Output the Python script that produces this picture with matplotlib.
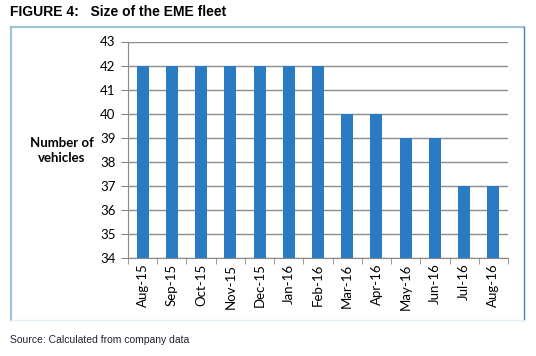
import matplotlib
matplotlib.use("Agg")
import matplotlib.pyplot as plt
from matplotlib.lines import Line2D

months = ["Aug-15", "Sep-15", "Oct-15", "Nov-15", "Dec-15", "Jan-16", "Feb-16",
          "Mar-16", "Apr-16", "May-16", "Jun-16", "Jul-16", "Aug-16"]
vehicles = [42, 42, 42, 42, 42, 42, 42, 40, 40, 39, 39, 37, 37]
y_ticks = [34, 35, 36, 37, 38, 39, 40, 41, 42, 43]

W, H = 536, 356
fig = plt.figure(figsize=(W / 100, H / 100), dpi=100)

# outer frame
def fx(x): return x / W
def fy(y): return 1 - y / H
fig.add_artist(Line2D([fx(11), fx(11)], [fy(27), fy(320)], color="#9fc2d6", lw=1.6, transform=fig.transFigure))
fig.add_artist(Line2D([fx(11), fx(524)], [fy(27), fy(27)], color="#9fc2d6", lw=1.6, transform=fig.transFigure))
fig.add_artist(Line2D([fx(524), fx(524)], [fy(27), fy(320)], color="#3f7fc4", lw=1.0, transform=fig.transFigure))
fig.add_artist(Line2D([fx(11), fx(524)], [fy(320), fy(320)], color="#e3f1f6", lw=1.0, transform=fig.transFigure))

ax = fig.add_axes([fx(128), fy(258), fx(508) - fx(128), fy(41.5) - fy(258)])
x = list(range(len(months)))
ax.bar(x, [v - 34 for v in vehicles], bottom=34, width=0.41, color="#2a7bc2", zorder=3)
ax.set_xlim(-0.5, len(months) - 0.5)
ax.set_ylim(34, 43)
ax.set_yticks(y_ticks)
ax.set_yticklabels([str(t) for t in y_ticks], fontsize=9.5, family="Lato")
ax.set_xticks(x)
ax.set_xticklabels(months, rotation=90, fontsize=9.5, family="Lato")
ax.tick_params(axis="x", length=0, pad=4)
ax.set_xticks([i - 0.5 for i in range(len(months) + 1)], minor=True)
ax.tick_params(axis="x", which="minor", length=4, color="#888888", direction="out")
ax.tick_params(axis="y", length=5, color="#888888", direction="out", pad=4)
ax.grid(axis="y", color="#8c8c8c", lw=1.0, zorder=0)
for s in ["top", "right"]:
    ax.spines[s].set_visible(False)
ax.spines["left"].set_color("#888888")
ax.spines["bottom"].set_color("#888888")

fig.text(fx(10), fy(12), "FIGURE 4:   Size of the EME fleet", fontsize=10, fontweight="bold",
         family="Liberation Sans", va="center", ha="left")
fig.text(fx(62), fy(150.5), "Number of\nvehicles", fontsize=9.5, fontweight="bold",
         family="Lato", va="center", ha="center", linespacing=1.3)
fig.text(fx(10), fy(340), "Source: Calculated from company data", fontsize=7.5,
         family="Liberation Sans", va="center", ha="left", color="#222233")

fig.savefig("out.png", dpi=100)
